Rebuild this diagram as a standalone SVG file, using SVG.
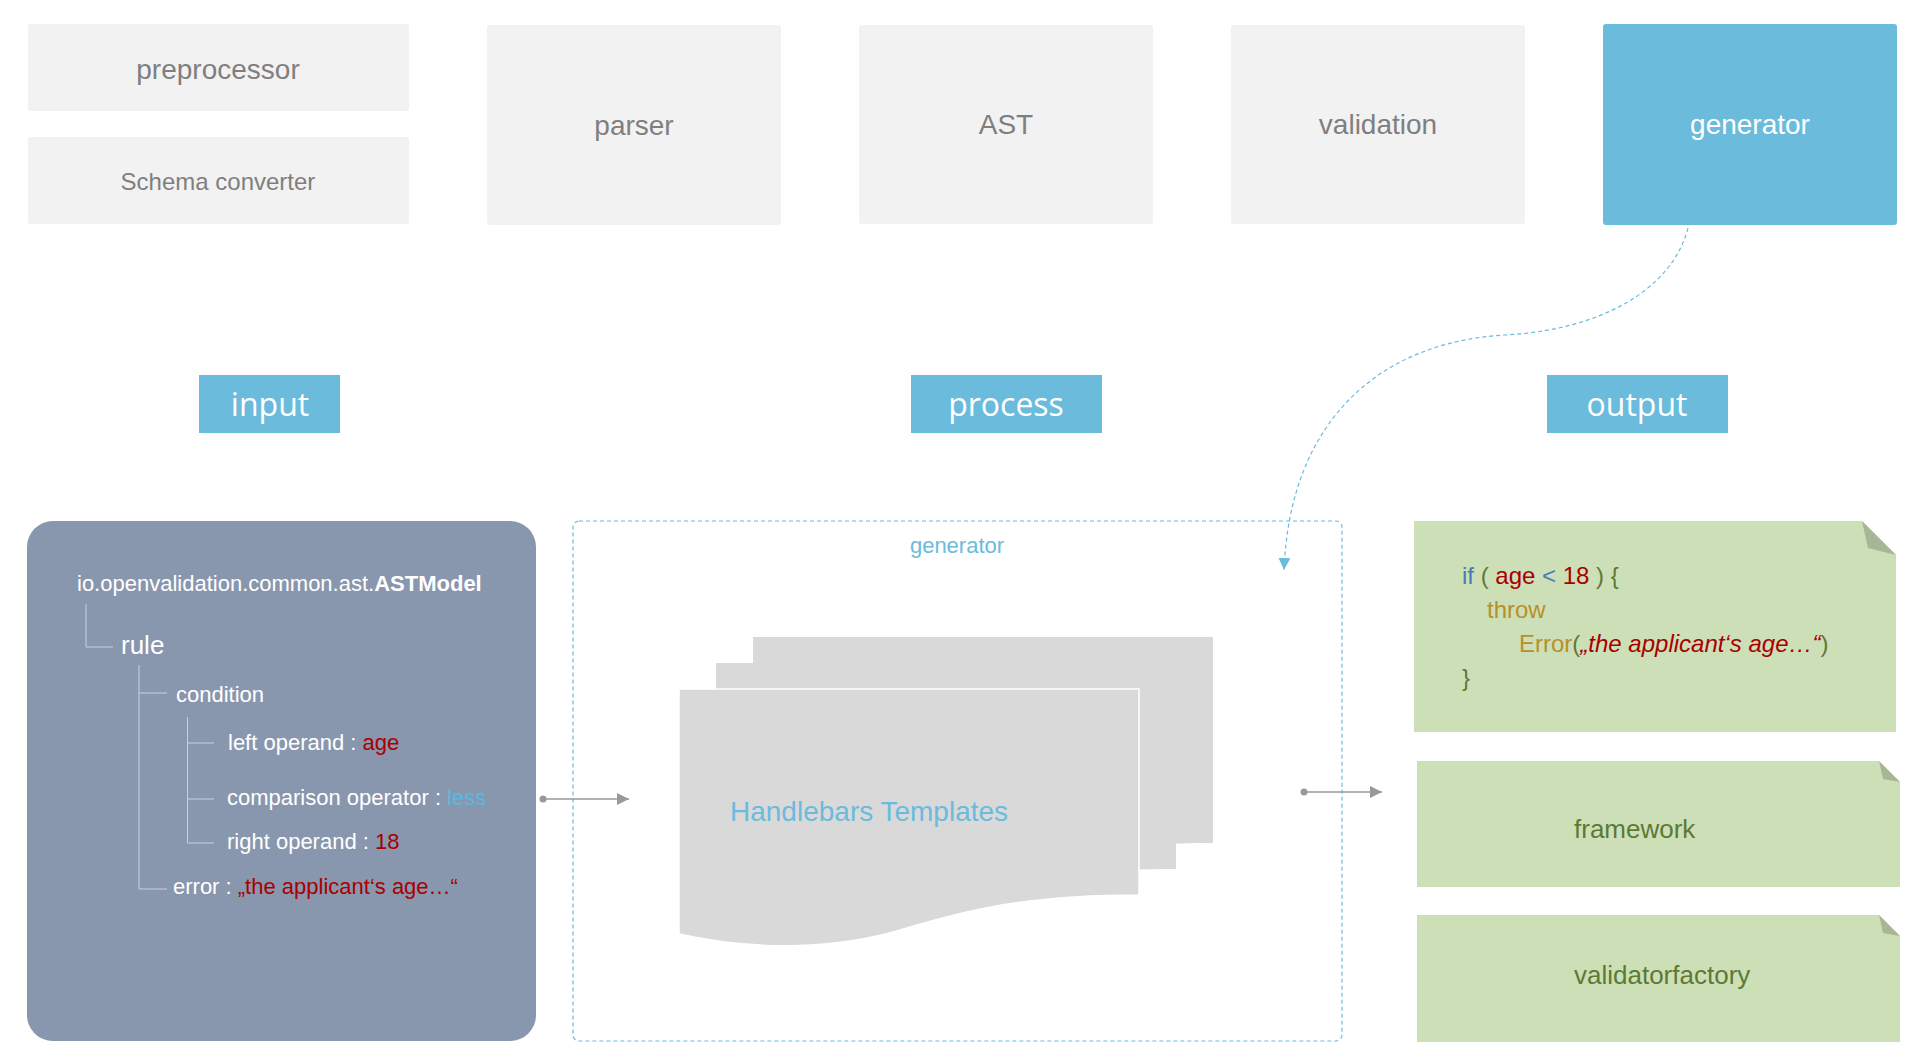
<svg xmlns="http://www.w3.org/2000/svg" width="1919" height="1060" viewBox="0 0 1919 1060">
<defs>
<style>
.stage{fill:#f2f2f2}
.stxt{font-family:"Liberation Sans",Arial,sans-serif;font-size:28px;fill:#7f7f7f;text-anchor:middle}
.lbl{fill:#6bbbdc}
.ltxt{font-family:"Open Sans","Liberation Sans",sans-serif;font-size:32px;fill:#ffffff;text-anchor:middle}
.tree{font-family:"Liberation Sans",Arial,sans-serif;font-size:22px;fill:#ffffff}
.tl{stroke:#c9d0dc;stroke-width:1;fill:none}
.red{fill:#a80000}
.note{fill:#cddfb6}
.fold{fill:#a7b697}
.code{font-family:"Liberation Sans",Arial,sans-serif;font-size:24px}
.grn{fill:#5b7a36}
.blu{fill:#4a7ab8}
.gold{fill:#b8902a}
.sheet{fill:#d9d9d9}
.front{stroke:#ffffff;stroke-width:1.5}
.conn{stroke:#999999;stroke-width:1.3;fill:none}
.dash{stroke:#6bbbdc;stroke-width:1.2;fill:none;stroke-dasharray:4 3}
</style>
<marker id="arrG" viewBox="0 0 12 12" refX="12" refY="6" markerWidth="12" markerHeight="12" markerUnits="userSpaceOnUse" orient="auto">
<path d="M0,0 L12,6 L0,12 Z" fill="#999999"/>
</marker>
<marker id="arrB" viewBox="0 0 12 12" refX="12" refY="6" markerWidth="12" markerHeight="12" markerUnits="userSpaceOnUse" orient="auto">
<path d="M0,0 L12,6 L0,12 Z" fill="#6bbbdc"/>
</marker>
<path id="doc" d="M679,689 H1139 V895 C1020,895 960,912 900,930 C840,948 760,952 679,934 Z"/>
</defs>
<rect width="1919" height="1060" fill="#ffffff"/>

<g id="preprocessor"><rect class="stage" x="28" y="24" width="381" height="87" rx="3"/><text class="stxt" x="218" y="79">preprocessor</text></g>
<g id="schema-converter"><rect class="stage" x="28" y="137" width="381" height="87" rx="3"/><text class="stxt" x="218" y="190" style="font-size:24px">Schema converter</text></g>
<g id="parser"><rect class="stage" x="487" y="25" width="294" height="200" rx="3"/><text class="stxt" x="634" y="135">parser</text></g>
<g id="ast"><rect class="stage" x="859" y="25" width="294" height="199" rx="3"/><text class="stxt" x="1006" y="134">AST</text></g>
<g id="validation"><rect class="stage" x="1231" y="25" width="294" height="199" rx="3"/><text class="stxt" x="1378" y="134">validation</text></g>
<g id="generator"><rect class="lbl" x="1603" y="24" width="294" height="201" rx="3"/><text class="stxt" x="1750" y="134" style="fill:#ffffff">generator</text></g>

<g id="label-input"><rect class="lbl" x="199" y="375" width="141" height="58"/><text class="ltxt" x="270" y="416">input</text></g>
<g id="label-process"><rect class="lbl" x="911" y="375" width="191" height="58"/><text class="ltxt" x="1006" y="416">process</text></g>
<g id="label-output"><rect class="lbl" x="1547" y="375" width="181" height="58"/><text class="ltxt" x="1637" y="416">output</text></g>

<g id="ast-model">
<rect x="27" y="521" width="509" height="520" rx="26" fill="#8997ae"/>
<path class="tl" d="M86,604 V647 H113 M139,665 V889 H167 M139,693 H167 M187.5,717 V843 H214 M187.5,743 H214 M187.5,799 H214"/>
<text class="tree" x="77" y="591">io.openvalidation.common.ast.<tspan font-weight="bold">ASTModel</tspan></text>
<text class="tree" x="121" y="654" style="font-size:26px">rule</text>
<text class="tree" x="176" y="702">condition</text>
<text class="tree" x="228" y="750">left operand : <tspan class="red">age</tspan></text>
<text class="tree" x="227" y="805">comparison operator : <tspan fill="#5bb7e0">less</tspan></text>
<text class="tree" x="227" y="849">right operand : <tspan class="red">18</tspan></text>
<text class="tree" x="173" y="894">error : <tspan class="red">„the applicant‘s age…“</tspan></text>
</g>

<g id="generator-container">
<rect x="573" y="521" width="769" height="520" rx="6" class="dash"/>
<text x="957" y="553" font-family="Liberation Sans, Arial, sans-serif" font-size="22" fill="#6bbbdc" text-anchor="middle">generator</text>
</g>

<g id="handlebars-templates">
<use href="#doc" class="sheet" transform="translate(74,-52)"/>
<use href="#doc" class="sheet" transform="translate(37,-26)"/>
<use href="#doc" class="sheet front"/>
<text x="730" y="821" font-family="Liberation Sans, Arial, sans-serif" font-size="28" fill="#6bbbdc">Handlebars Templates</text>
</g>

<g id="code-output">
<path class="note" d="M1414,521 H1862 L1896,555 V732 H1414 Z"/>
<path class="fold" d="M1862,521 L1868,548 L1896,555 Z"/>
<text class="code" x="1462" y="584"><tspan class="blu">if</tspan><tspan class="grn"> ( </tspan><tspan class="red">age</tspan><tspan class="blu"> &lt; </tspan><tspan class="red">18</tspan><tspan class="grn"> ) {</tspan></text>
<text class="code gold" x="1487" y="618">throw</text>
<text class="code" x="1519" y="652"><tspan class="gold">Error</tspan><tspan class="grn">(</tspan><tspan class="red" font-style="italic">„the applicant‘s age…“</tspan><tspan class="grn">)</tspan></text>
<text class="code grn" x="1462" y="686">}</text>
</g>

<g id="framework">
<path class="note" d="M1417,761 H1879 L1900,782 V887 H1417 Z"/>
<path class="fold" d="M1879,761 L1883,779 L1900,782 Z"/>
<text x="1574" y="838" font-family="Liberation Sans, Arial, sans-serif" font-size="26" class="grn">framework</text>
</g>

<g id="validatorfactory">
<path class="note" d="M1417,915 H1879 L1900,936 V1042 H1417 Z"/>
<path class="fold" d="M1879,915 L1883,933 L1900,936 Z"/>
<text x="1574" y="984" font-family="Liberation Sans, Arial, sans-serif" font-size="26" class="grn">validatorfactory</text>
</g>

<g id="connectors">
<circle cx="543" cy="799" r="3.5" fill="#999999"/>
<line class="conn" x1="543" y1="799" x2="629" y2="799" marker-end="url(#arrG)"/>
<circle cx="1304" cy="792" r="3.5" fill="#999999"/>
<line class="conn" x1="1304" y1="792" x2="1382" y2="792" marker-end="url(#arrG)"/>
<path class="dash" d="M1688,228 C1672,290 1600,330 1505,335 C1380,342 1290,420 1284,570" marker-end="url(#arrB)"/>
</g>
</svg>
